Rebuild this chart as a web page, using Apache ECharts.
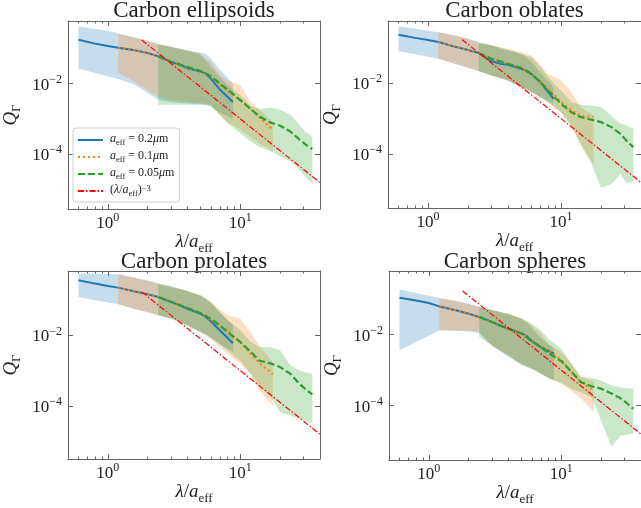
<!DOCTYPE html>
<html><head><meta charset="utf-8">
<script src="https://cdn.jsdelivr.net/npm/echarts@6/dist/echarts.min.js"></script>
<style>html,body{margin:0;padding:0;background:#fff}#c{width:641px;height:508px}</style>
</head><body><div id="c"></div>
<script>
// ---------- data ----------
const x02 = [0.6, 0.8, 1.0, 1.2, 1.6, 2.0, 2.4, 3.0, 3.5, 4.0, 5.0, 5.5, 6.0, 7.0, 8.8];
const x01 = [1.2, 1.6, 2.0, 2.4, 3.0, 4.0, 5.0, 6.0, 7.0, 8.0, 10, 12, 14, 17.6];
const x005 = [2.4, 3.0, 4.0, 5.0, 6.0, 7.0, 8.0, 10, 12, 14, 17, 20, 24, 28, 31, 35];
const redX = [1.8, 40];
const redY = [0.1715, 1.5625e-5];
const xMajorTicks = [1, 10];
const xMinorTicks = [0.6, 0.7, 0.8, 0.9, 2, 3, 4, 5, 6, 7, 8, 9, 20, 30];
const yMajorTicks = [1e-2, 1e-4];

// Carbon ellipsoids
const ellB   = [0.173, 0.135, 0.115, 0.103, 0.087, 0.073, 0.059, 0.041, 0.034, 0.027, 0.022, 0.019, 0.0138, 0.0068, 0.0030];
const ellBlo = [0.0265, 0.02, 0.016, 0.0135, 0.0092, 0.0054, 0.0035, 0.003, 0.0028, 0.0027, 0.0026, 0.0025, 0.0022, 0.0015, 0.001];
const ellBhi = [0.41, 0.35, 0.31, 0.26, 0.2, 0.16, 0.13, 0.11, 0.095, 0.085, 0.075, 0.07, 0.05, 0.025, 0.01];
const ellO   = [0.103, 0.087, 0.073, 0.059, 0.041, 0.028, 0.022, 0.016, 0.0095, 0.0062, 0.0034, 0.0019, 0.00105, 0.0005];
const ellOlo = [0.021, 0.011, 0.0065, 0.0042, 0.0035, 0.003, 0.0028, 0.0025, 0.0013, 0.0008, 0.0005, 0.0003, 0.0002, 0.00012];
const ellOhi = [0.256, 0.2, 0.16, 0.133, 0.11, 0.085, 0.065, 0.04, 0.018, 0.012, 0.009, 0.003, 0.0018, 0.0008];
const ellG   = [0.059, 0.041, 0.0295, 0.0228, 0.016, 0.01, 0.0068, 0.0034, 0.0019, 0.00115, 0.00078, 0.00064, 0.00043, 0.00026, 0.00019, 0.00014];
const ellGlo = [0.0025, 0.0025, 0.0025, 0.0025, 0.0024, 0.00128, 0.00075, 0.00039, 0.00023, 0.00016, 0.00012, 0.000086, 0.000062, 0.000036, 0.000023, 0.000015];
const ellGhi = [0.125, 0.108, 0.087, 0.07, 0.029, 0.0154, 0.009, 0.0047, 0.0023, 0.0019, 0.0021, 0.0018, 0.0013, 0.00067, 0.00043, 0.00031];

// Carbon oblates
const oblB   = [0.233, 0.19, 0.165, 0.145, 0.106, 0.086, 0.071, 0.042, 0.035, 0.033, 0.0255, 0.0226, 0.018, 0.0107, 0.0036];
const oblBlo = [0.08, 0.066, 0.056, 0.049, 0.035, 0.027, 0.022, 0.0165, 0.0141, 0.0119, 0.0077, 0.0069, 0.0056, 0.004, 0.0026];
const oblBhi = [0.40, 0.345, 0.30, 0.276, 0.223, 0.18, 0.145, 0.117, 0.094, 0.084, 0.068, 0.054, 0.039, 0.02, 0.0077];
const oblO   = [0.145, 0.106, 0.086, 0.071, 0.049, 0.0353, 0.027, 0.018, 0.011, 0.0068, 0.003, 0.0017, 0.0012, 0.0011];
const oblOlo = [0.049, 0.035, 0.027, 0.022, 0.0165, 0.0119, 0.0077, 0.0056, 0.004, 0.0029, 0.0015, 0.0006, 0.0002, 0.00005];
const oblOhi = [0.276, 0.223, 0.18, 0.135, 0.117, 0.094, 0.075, 0.06, 0.033, 0.018, 0.012, 0.0056, 0.0021, 0.0012];
const oblG   = [0.071, 0.049, 0.0353, 0.027, 0.018, 0.0107, 0.0062, 0.0026, 0.0015, 0.0011, 0.00092, 0.00079, 0.00057, 0.00037, 0.00024, 0.000155];
const oblGlo = [0.022, 0.0165, 0.0119, 0.0077, 0.0056, 0.004, 0.0029, 0.0015, 0.00063, 0.00019, 0.000052, 0.000011, 0.000014, 0.000027, 0.000015, 0.000016];
const oblGhi = [0.135, 0.117, 0.088, 0.068, 0.054, 0.0284, 0.0148, 0.0062, 0.0029, 0.0025, 0.0023, 0.0021, 0.0012, 0.00071, 0.00063, 0.00051];

// Carbon prolates
const proB   = [0.366, 0.294, 0.253, 0.226, 0.175, 0.147, 0.123, 0.089, 0.071, 0.057, 0.041, 0.033, 0.025, 0.014, 0.006];
const proBlo = [0.123, 0.099, 0.086, 0.076, 0.056, 0.045, 0.037, 0.03, 0.024, 0.019, 0.0124, 0.011, 0.008, 0.0055, 0.0035];
const proBhi = [0.57, 0.56, 0.55, 0.54, 0.43, 0.36, 0.3, 0.25, 0.21, 0.18, 0.13, 0.11, 0.08, 0.045, 0.02];
const proO   = [0.226, 0.175, 0.147, 0.123, 0.09, 0.06, 0.043, 0.028, 0.019, 0.0139, 0.0065, 0.003, 0.0016, 0.0008];
const proOlo = [0.076, 0.056, 0.045, 0.037, 0.03, 0.019, 0.0124, 0.008, 0.0047, 0.003, 0.00156, 0.0008, 0.00027, 0.0001];
const proOhi = [0.53, 0.43, 0.35, 0.294, 0.236, 0.18, 0.137, 0.09, 0.055, 0.037, 0.03, 0.012, 0.005, 0.0017];
const proG   = [0.123, 0.089, 0.06, 0.043, 0.0298, 0.019, 0.0124, 0.0065, 0.0034, 0.0019, 0.0016, 0.00126, 0.0008, 0.00042, 0.0003, 0.00021];
const proGlo = [0.037, 0.03, 0.019, 0.0124, 0.009, 0.0058, 0.0037, 0.0019, 0.0008, 0.00034, 0.00018, 0.000066, 0.000053, 0.000043, 0.000038, 0.000031];
const proGhi = [0.28, 0.236, 0.18, 0.137, 0.089, 0.046, 0.0267, 0.0139, 0.0065, 0.0047, 0.0047, 0.0037, 0.0014, 0.001, 0.0009, 0.0008];

// Carbon spheres
const sphB   = [0.111, 0.092, 0.079, 0.063, 0.049, 0.039, 0.0316, 0.023, 0.0176, 0.0148, 0.0111, 0.009, 0.0066, 0.0045, 0.0029];
const sphBlo = [0.0036, 0.0062, 0.0094, 0.0133, 0.013, 0.0125, 0.011, 0.0049, 0.0033, 0.0024, 0.0014, 0.0012, 0.0011, 0.0008, 0.0005];
const sphBhi = [0.188, 0.151, 0.127, 0.109, 0.09, 0.075, 0.062, 0.05, 0.043, 0.037, 0.028, 0.022, 0.015, 0.008, 0.004];
const sphO   = [0.063, 0.049, 0.039, 0.0316, 0.023, 0.0148, 0.0111, 0.007, 0.0048, 0.0036, 0.0019, 0.0009, 0.00046, 0.00027];
const sphOlo = [0.0133, 0.013, 0.0128, 0.0125, 0.005, 0.0025, 0.0015, 0.0011, 0.0008, 0.0006, 0.00045, 0.00025, 0.00016, 0.000065];
const sphOhi = [0.109, 0.09, 0.072, 0.0606, 0.049, 0.039, 0.03, 0.018, 0.0104, 0.0056, 0.0032, 0.0015, 0.00071, 0.00046];
const sphG   = [0.0316, 0.0228, 0.0148, 0.0107, 0.0066, 0.0045, 0.003, 0.0018, 0.00088, 0.00046, 0.00035, 0.0003, 0.00022, 0.00016, 0.00012, 0.000081];
const sphGlo = [0.0086, 0.005, 0.0026, 0.0015, 0.0011, 0.00079, 0.0006, 0.00041, 0.0003, 0.00024, 0.00017, 0.000037, 0.0000069, 0.000014, 0.000015, 0.000016];
const sphGhi = [0.0606, 0.049, 0.039, 0.0284, 0.0205, 0.0133, 0.0077, 0.004, 0.0015, 0.00063, 0.0006, 0.00051, 0.00037, 0.00033, 0.00031, 0.0003];

const titles = ['Carbon ellipsoids', 'Carbon oblates', 'Carbon prolates', 'Carbon spheres'];
const yMin = [2.8e-6, 2.95e-6, 3.1e-6, 2.9e-6];
const yMax = [0.59, 0.57, 0.67, 0.63];
const xMin = 0.5, xMax = 40;

const panelData = [
  {b: [ellB, ellBlo, ellBhi], o: [ellO, ellOlo, ellOhi], g: [ellG, ellGlo, ellGhi]},
  {b: [oblB, oblBlo, oblBhi], o: [oblO, oblOlo, oblOhi], g: [oblG, oblGlo, oblGhi]},
  {b: [proB, proBlo, proBhi], o: [proO, proOlo, proOhi], g: [proG, proGlo, proGhi]},
  {b: [sphB, sphBlo, sphBhi], o: [sphO, sphOlo, sphOhi], g: [sphG, sphGlo, sphGhi]}
];

// ---------- layout / style ----------
const layout = [
  {left: 68, top: 21, width: 252, height: 188},
  {left: 388, top: 21, width: 253, height: 187},
  {left: 68, top: 271, width: 252, height: 188},
  {left: 389, top: 271, width: 252, height: 189}
];
const F = 'Liberation Serif';
const TXT = '#222';
const AX = '#666';
const COL = {b: '#1f77b4', o: '#ff7f0e', g: '#2ca02c', r: '#ff0000'};
const FILL = {b: 'rgba(31,119,180,0.25)', o: 'rgba(255,127,14,0.25)', g: 'rgba(44,160,44,0.25)'};

const tickRich = {
  b: {fontFamily: F, fontSize: 17, color: TXT, lineHeight: 20, verticalAlign: 'bottom'},
  p: {fontFamily: F, fontSize: 12, color: TXT, lineHeight: 8, verticalAlign: 'top'}
};
const nameRich = {
  i: {fontFamily: F, fontSize: 19, fontStyle: 'italic', color: TXT, lineHeight: 22, verticalAlign: 'top'},
  n: {fontFamily: F, fontSize: 19, color: TXT, lineHeight: 22, verticalAlign: 'top'},
  s: {fontFamily: F, fontSize: 13, color: TXT, lineHeight: 12, verticalAlign: 'bottom'}
};
function tickFmt(v) {
  const e = Math.round(Math.log10(v));
  return '{b|10}{p|' + (e < 0 ? '\u2212' + (-e) : e) + '}';
}

const xAxes = [], yAxes = [], series = [], graphics = [];
layout.forEach(function (g, gi) {
  const xb = {gridIndex: gi, type: 'log', logBase: 10, min: xMin, max: xMax, splitLine: {show: false},
    axisLine: {show: true, onZero: false, lineStyle: {color: AX, width: 1}}};
  xAxes.push(Object.assign({}, xb, {position: 'bottom',
    axisTick: {show: true, inside: true, length: 5, customValues: xMajorTicks, lineStyle: {color: AX, width: 1}},
    axisLabel: {show: true, customValues: xMajorTicks, margin: 3, formatter: tickFmt, rich: tickRich},
    name: '{i|\u03bb}{n|/}{i|a}{s|eff}', nameLocation: 'middle', nameGap: 21,
    nameTextStyle: {rich: nameRich}}));
  xAxes.push(Object.assign({}, xb, {position: 'bottom', axisLine: {show: false, onZero: false},
    axisTick: {show: true, inside: true, length: 2.5, customValues: xMinorTicks, lineStyle: {color: AX, width: 1}},
    axisLabel: {show: false}}));
  xAxes.push(Object.assign({}, xb, {position: 'top',
    axisTick: {show: true, inside: true, length: 5, customValues: xMajorTicks, lineStyle: {color: AX, width: 1}},
    axisLabel: {show: false}}));
  xAxes.push(Object.assign({}, xb, {position: 'top', axisLine: {show: false, onZero: false},
    axisTick: {show: true, inside: true, length: 2.5, customValues: xMinorTicks, lineStyle: {color: AX, width: 1}},
    axisLabel: {show: false}}));
  const yb = {gridIndex: gi, type: 'log', logBase: 10, min: yMin[gi], max: yMax[gi], splitLine: {show: false},
    axisLine: {show: true, onZero: false, lineStyle: {color: AX, width: 1}}};
  yAxes.push(Object.assign({}, yb, {position: 'left',
    axisTick: {show: true, inside: true, length: 5, customValues: yMajorTicks, lineStyle: {color: AX, width: 1}},
    axisLabel: {show: true, customValues: yMajorTicks, margin: 6, formatter: tickFmt, rich: tickRich},
    name: '{i|Q}{s|\u0393}', nameLocation: 'middle', nameGap: 45, nameRotate: 90,
    nameTextStyle: {rich: nameRich}}));
  yAxes.push(Object.assign({}, yb, {position: 'right',
    axisTick: {show: true, inside: true, length: 5, customValues: yMajorTicks, lineStyle: {color: AX, width: 1}},
    axisLabel: {show: false}}));

  const pd = panelData[gi];
  const xi = gi * 4, yi = gi * 2;
  function line(name, xs, ys, color, width, type) {
    series.push({type: 'line', name: name, xAxisIndex: xi, yAxisIndex: yi, symbol: 'none', showSymbol: false,
      clip: true, silent: true, data: xs.map(function (x, k) { return [x, ys[k]]; }),
      lineStyle: {color: color, width: width, type: type}, itemStyle: {color: color}});
  }
  function band(xs, lo, hi, fill) {
    series.push({type: 'custom', xAxisIndex: xi, yAxisIndex: yi, silent: true, clip: true,
      data: [[xs[0], hi[0]]],
      renderItem: function (params, api) {
        const pts = [];
        for (let k = 0; k < xs.length; k++) pts.push(api.coord([xs[k], hi[k]]));
        for (let k = xs.length - 1; k >= 0; k--) pts.push(api.coord([xs[k], lo[k]]));
        return {type: 'polygon', shape: {points: pts}, style: {fill: fill, stroke: null}};
      }});
  }
  line('a02', x02, pd.b[0], COL.b, 2, 'solid');
  band(x02, pd.b[1], pd.b[2], FILL.b);
  line('a01', x01, pd.o[0], COL.o, 2, [2, 3]);
  band(x01, pd.o[1], pd.o[2], FILL.o);
  line('a005', x005, pd.g[0], COL.g, 2.2, [7, 3]);
  band(x005, pd.g[1], pd.g[2], FILL.g);
  line('pow', redX, redY, COL.r, 1.2, [6, 2, 1.5, 2]);

  graphics.push({type: 'text', x: g.left + g.width / 2, y: gi < 2 ? 11 : 262,
    style: {text: titles[gi], font: '23px "' + F + '"', fill: TXT, align: 'center', verticalAlign: 'middle',
      textAlign: 'center', textVerticalAlign: 'middle'}});
});

const legendNames = {
  a02: '{i|a}{s|eff}{n| = 0.2}{i|\u03bc}{n|m}',
  a01: '{i|a}{s|eff}{n| = 0.1}{i|\u03bc}{n|m}',
  a005: '{i|a}{s|eff}{n| = 0.05}{i|\u03bc}{n|m}',
  pow: '{n|(}{i|\u03bb}{n|/}{i|a}{s|eff}{n|)}{p|\u22123}'
};

const chart = echarts.init(document.getElementById('c'), null, {renderer: 'canvas'});
chart.setOption({
  animation: false,
  backgroundColor: '#fff',
  textStyle: {fontFamily: F},
  grid: layout.map(function (g) { return Object.assign({containLabel: false}, g); }),
  xAxis: xAxes,
  yAxis: yAxes,
  legend: {
    show: true, orient: 'vertical', left: 73, top: 128, selectedMode: false,
    data: ['a02', 'a01', 'a005', 'pow'],
    itemWidth: 25, itemHeight: 14, itemGap: 3,
    padding: [5, 5, 4, 4],
    itemStyle: {opacity: 0, borderWidth: 0},
    backgroundColor: 'rgba(255,255,255,0.8)', borderColor: '#d0d0d0', borderWidth: 1, borderRadius: 3,
    formatter: function (n) { return legendNames[n]; },
    textStyle: {fontFamily: F, fontSize: 12, color: TXT, padding: [0, 0, 0, 2], rich: {
      i: {fontFamily: F, fontSize: 12, fontStyle: 'italic', color: TXT, lineHeight: 14, verticalAlign: 'top'},
      n: {fontFamily: F, fontSize: 12, color: TXT, lineHeight: 14, verticalAlign: 'top'},
      s: {fontFamily: F, fontSize: 8.5, color: TXT, lineHeight: 8, verticalAlign: 'bottom'},
      p: {fontFamily: F, fontSize: 8.5, color: TXT, lineHeight: 8, verticalAlign: 'top'}
    }}
  },
  graphic: graphics,
  series: series
});
</script>
</body></html>
